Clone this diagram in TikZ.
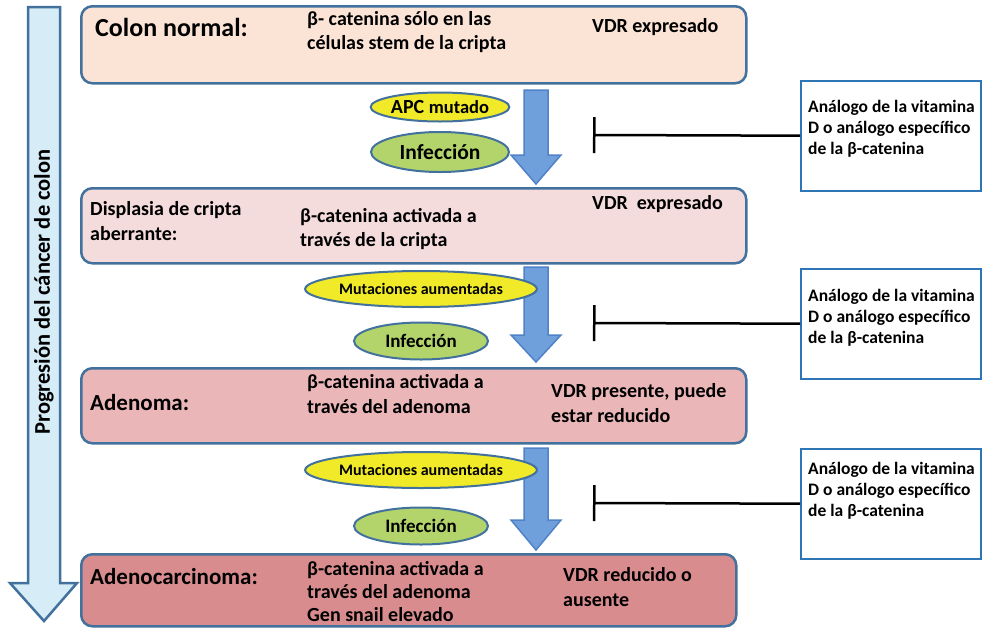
\documentclass[tikz,border=0pt]{standalone}
\usepackage{fontspec}
\setmainfont{Carlito}
\usetikzlibrary{arrows.meta,positioning,shapes.geometric}

\definecolor{boxline}{RGB}{65,113,156}
\definecolor{peach}{RGB}{251,227,214}
\definecolor{pinkA}{RGB}{244,219,220}
\definecolor{pinkB}{RGB}{234,182,184}
\definecolor{pinkC}{RGB}{217,140,142}
\definecolor{sidefill}{RGB}{214,236,247}
\definecolor{flowfill}{RGB}{111,160,220}
\definecolor{flowline}{RGB}{80,130,200}
\definecolor{ylw}{RGB}{240,234,40}
\definecolor{grn}{RGB}{178,212,106}
\definecolor{drugline}{RGB}{46,117,182}

\tikzset{
  stage/.style={draw=boxline,line width=2.5pt,rounded corners=11pt,
    anchor=north west,inner sep=0pt},
  drug/.style={draw=drugline,line width=2pt,fill=white,anchor=north west,
    minimum width=180pt,minimum height=110pt,inner sep=0pt},
  cause/.style={ellipse,draw=boxline,line width=2pt,inner sep=0pt},
  body/.style={anchor=west,align=left,inner sep=0pt,
    font=\fontsize{20}{24.5}\selectfont\bfseries},
  head/.style={anchor=west,inner sep=0pt,font=\fontsize{23}{28}\selectfont\bfseries},
  drugtxt/.style={anchor=west,align=left,inner sep=0pt,
    font=\fontsize{17.5}{21}\selectfont\bfseries},
  inhib/.style={line width=2.5pt,-{Bar[width=36pt,line width=2.5pt]}}
}

\begin{document}
\begin{tikzpicture}[x=1pt,y=-1pt]
\useasboundingbox (0,0) rectangle (983,627);

% progression arrow on the left
\draw[boxline,line width=2.5pt,fill=sidefill] (28,7) -- (60,7) -- (60,583) -- (77,583)
  -- (44,621) -- (10,583) -- (28,583) -- cycle;
\node[rotate=90,inner sep=0pt,font=\fontsize{22.5}{27}\selectfont\bfseries] (prog) at (44,292)
  {Progresión del cáncer de colon};

% stages
\node[stage,fill=peach,minimum width=665pt,minimum height=77pt] (S1) at (80,5) {};
\node[stage,fill=pinkA,minimum width=665pt,minimum height=75pt] (S2) at (80,187) {};
\node[stage,fill=pinkB,minimum width=665pt,minimum height=75pt] (S3) at (80,367) {};
\node[stage,fill=pinkC,minimum width=655pt,minimum height=72pt] (S4) at (80,553) {};

\node[head,font=\fontsize{26}{30}\selectfont\bfseries] (H1) at (95,27) {Colon normal:};
\node[body] (B1) at (307,32) {β- catenina sólo en las\\células stem de la cripta};
\node[body] (V1) at (592,27) {VDR expresado};

\node[body] (H2) at (90,221) {Displasia de cripta\\aberrante:};
\node[body] (B2) at (300,229) {β-catenina activada a\\través de la cripta};
\node[body] (V2) at (592,204) {VDR~ expresado};

\node[head] (H3) at (90,403) {Adenoma:};
\node[body] (B3) at (307,394) {β-catenina activada a\\través del adenoma};
\node[body] (V3) at (551,403) {VDR presente, puede\\estar reducido};

\node[head] (H4) at (90,577) {Adenocarcinoma:};
\node[body,font=\fontsize{20}{23}\selectfont\bfseries] (B4) at (307,592)
  {β-catenina activada a\\través del adenoma\\Gen snail elevado};
\node[body] (V4) at (563,587) {VDR reducido o\\ausente};

% flow arrows between stages
\draw[flowline,line width=1.5pt,fill=flowfill] (524,90) -- (548,90) -- (548,155) -- (561,155)
  -- (536,184) -- (511,155) -- (524,155) -- cycle;
\draw[flowline,line width=1.5pt,fill=flowfill] (524,267) -- (548,267) -- (548,335) -- (561,335)
  -- (536,362) -- (511,335) -- (524,335) -- cycle;
\draw[flowline,line width=1.5pt,fill=flowfill] (524,448) -- (548,448) -- (548,520) -- (561,520)
  -- (536,550) -- (511,520) -- (524,520) -- cycle;

% causes
\node[cause,fill=ylw,minimum width=136pt,minimum height=29pt] (M1) at (440,107)
  {\fontsize{20}{24}\selectfont\bfseries APC \fontsize{18.5}{22}\selectfont mutado};
\node[cause,fill=grn,minimum width=138pt,minimum height=40pt,on grid] (I1) [below=45pt of M1]
  {\fontsize{21.5}{25}\selectfont\bfseries Infección};
\node[cause,fill=ylw,minimum width=190pt,minimum height=36pt] (M2) at (421,289)
  {\fontsize{16}{19}\selectfont\bfseries Mutaciones aumentadas};
\node[cause,fill=grn,minimum width=134pt,minimum height=37pt,on grid] (I2) [below=52pt of M2]
  {\fontsize{19}{23}\selectfont\bfseries Infección};
\node[cause,fill=ylw,minimum width=190pt,minimum height=36pt] (M3) at (421,470)
  {\fontsize{16}{19}\selectfont\bfseries Mutaciones aumentadas};
\node[cause,fill=grn,minimum width=134pt,minimum height=37pt,on grid] (I3) [below=56pt of M3]
  {\fontsize{19}{23}\selectfont\bfseries Infección};

% therapy boxes
\node[drug] (D1) at (800,80) {};
\node[drug] (D2) at (800,268) {};
\node[drug] (D3) at (800,448) {};
\foreach \d/\y in {1/129,2/318,3/491}
  \node[drugtxt] (T\d) at (808,\y) {Análogo de la vitamina\\D o análogo específico\\de la β-catenina};

\coordinate (K1) at (593,135);
\coordinate (K2) at (593,323);
\coordinate (K3) at (593,503);
\draw[inhib] (D1) -- (K1);
\draw[inhib] (D2) -- (K2);
\draw[inhib] (D3) -- (K3);
\end{tikzpicture}
\end{document}
